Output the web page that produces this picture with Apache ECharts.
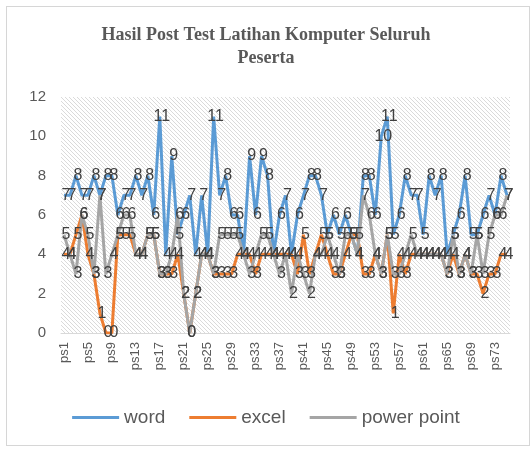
<!DOCTYPE html>
<html lang="id">
<head>
  <meta charset="utf-8">
  <title>Hasil Post Test</title>
  <script src="https://cdn.jsdelivr.net/npm/echarts@6/dist/echarts.min.js"></script>
  <style>
    html, body { margin: 0; padding: 0; background: #fff; }
    #main { position: absolute; left: 0; top: 0; width: 532px; height: 450px; }
    #frame { position: absolute; left: 6px; top: 6px; width: 524px; height: 440px;
             border: 1px solid #d6d6d6; box-sizing: border-box; pointer-events: none; }
  </style>
</head>
<body>
  <div id="main"></div>
  <div id="frame"></div>
  <script>
    // data (ps1 .. ps75)
    var categories = [];
    for (var i = 1; i <= 75; i++) categories.push('ps' + i);

    var word = [7, 7, 8, 7, 7, 8, 7, 8, 8, 6, 7, 7, 8, 7, 8, 6, 11, 4, 9, 5,
      6, 7, 4, 7, 4, 11, 7, 8, 6, 6, 4, 9, 6, 9, 8, 4, 6, 7, 4, 6,
      7, 8, 8, 7, 5, 6, 5, 6, 5, 4, 8, 8, 6, 10, 11, 5, 6, 8, 7, 7,
      5, 8, 7, 8, 4, 5, 6, 8, 5, 5, 6, 7, 6, 8, 7];
    var excel = [4, 4, 5, 6, 4, 3, 1, 0, 0, 5, 5, 5, 4, 4, 5, 5, 3, 3, 3, 4,
      2, 0, 2, 4, 4, 3, 3, 3, 3, 4, 4, 4, 3, 4, 4, 4, 4, 4, 4, 3,
      5, 3, 4, 5, 4, 3, 3, 4, 5, 5, 3, 3, 4, 3, 5, 1, 4, 3, 4, 4,
      4, 4, 4, 4, 3, 4, 3, 4, 3, 3, 2, 3, 3, 4, 4];
    var powerPoint = [5, 4, 3, 6, 5, 3, 7, 3, 4, 5, 6, 6, 4, 4, 5, 5, 3, 3, 4, 6,
      2, 0, 2, 4, 4, 3, 5, 5, 5, 5, 4, 3, 4, 5, 5, 4, 3, 4, 2, 4,
      3, 2, 4, 4, 5, 4, 3, 5, 5, 4, 7, 6, 4, 3, 5, 3, 3, 4, 5, 4,
      4, 4, 4, 4, 3, 5, 3, 4, 3, 5, 3, 5, 6, 6, 7];

    // hatch pattern for plot area
    var pat = document.createElement('canvas');
    pat.width = 4; pat.height = 4;
    var pc = pat.getContext('2d');
    pc.fillStyle = '#ffffff';
    pc.fillRect(0, 0, 4, 4);
    pc.strokeStyle = '#dadada';
    pc.lineWidth = 1;
    pc.beginPath();
    pc.moveTo(0, 0); pc.lineTo(4, 4);
    pc.moveTo(-2, 2); pc.lineTo(2, 6);
    pc.moveTo(2, -2); pc.lineTo(6, 2);
    pc.stroke();

    // labels sit roughly on the point, slightly to the right
    var labelStyle = {
      show: true,
      position: [0, 0],
      align: 'center',
      verticalAlign: 'middle',
      offset: [2, 0],
      fontSize: 16,
      color: '#404040',
      fontFamily: 'Liberation Sans'
    };

    function makeSeries(name, data, color) {
      return {
        name: name,
        type: 'line',
        data: data,
        symbol: 'circle',
        symbolSize: 0,
        showSymbol: true,
        lineStyle: { width: 3, color: color },
        itemStyle: { color: color },
        label: labelStyle
      };
    }

    var myChart = echarts.init(document.getElementById('main'));
    var option = {
      animation: false,
      backgroundColor: '#fff',
      title: {
        text: 'Hasil Post Test Latihan Komputer Seluruh\nPeserta',
        left: 'center',
        top: 19,
        textStyle: {
          fontFamily: 'Liberation Serif',
          fontWeight: 'bold',
          fontSize: 18,
          color: '#595959',
          lineHeight: 23
        }
      },
      legend: {
        bottom: 18,
        left: 'center',
        icon: 'rect',
        itemWidth: 47,
        itemHeight: 3,
        itemGap: 24,
        textStyle: { fontSize: 19, color: '#595959', fontFamily: 'Liberation Sans' },
        data: ['word', 'excel', 'power point']
      },
      grid: {
        left: 61,
        right: 22,
        top: 97,
        bottom: 117,
        show: true,
        borderWidth: 0,
        backgroundColor: { image: pat, repeat: 'repeat' }
      },
      xAxis: {
        type: 'category',
        data: categories,
        axisLine: { lineStyle: { color: '#d9d9d9' } },
        axisTick: { show: false },
        axisLabel: {
          interval: 3,
          rotate: 90,
          margin: 9,
          fontSize: 13,
          color: '#595959',
          fontFamily: 'Liberation Sans'
        }
      },
      yAxis: {
        type: 'value',
        min: 0,
        max: 12,
        interval: 2,
        axisLine: { show: false },
        axisTick: { show: false },
        splitLine: { show: false },
        axisLabel: { fontSize: 15, color: '#595959', margin: 15, fontFamily: 'Liberation Sans' }
      },
      series: [
        makeSeries('word', word, '#5b9bd5'),
        makeSeries('excel', excel, '#ed7d31'),
        makeSeries('power point', powerPoint, '#a5a5a5')
      ]
    };
    myChart.setOption(option);
  </script>
</body>
</html>
